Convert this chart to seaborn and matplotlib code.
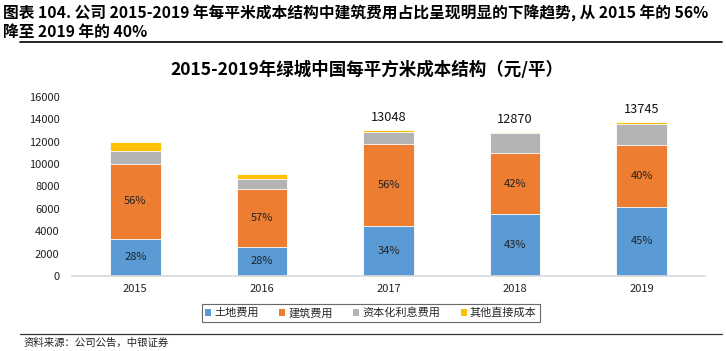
import matplotlib
matplotlib.use("Agg")
import matplotlib.pyplot as plt
from matplotlib.lines import Line2D
from matplotlib.patches import Patch
import seaborn as sns
import pandas as pd
import numpy as np

sns.set_theme(style="white")
plt.rcParams['font.family'] = ['Noto Sans CJK SC', 'DejaVu Sans']

years = ["2015", "2016", "2017", "2018", "2019"]
land = [3330, 2590, 4440, 5534, 6185]
construction = [6660, 5200, 7300, 5405, 5500]
capital = [1190, 840, 1100, 1830, 1880]
other = [750, 445, 208, 101, 180]
land_pct = ["28%", "28%", "34%", "43%", "45%"]
cons_pct = ["56%", "57%", "56%", "42%", "40%"]
totals_shown = [None, None, 13048, 12870, 13745]
series_names = ["土地费用", "建筑费用", "资本化利息费用", "其他直接成本"]
colors = ["#5B9BD5", "#ED7D31", "#B4B4B4", "#FFC000"]

W, H = 726, 351
fig = plt.figure(figsize=(W / 100, H / 100), dpi=100)

def fx(px):
    return px / W

def fy(py):
    return 1 - py / H

# Header
fig.text(fx(3), fy(13), "图表 104. 公司 2015-2019 年每平米成本结构中建筑费用占比呈现明显的下降趋势, 从 2015 年的 56%",
         fontsize=11.3, fontweight="bold", va="center", ha="left", color="black")
fig.text(fx(3), fy(32), "降至 2019 年的 40%", fontsize=11.3, fontweight="bold", va="center", ha="left", color="black")
fig.add_artist(Line2D([fx(20), fx(722)], [fy(42), fy(42)], color="black", lw=1.2))
fig.add_artist(Line2D([fx(20), fx(722)], [fy(334), fy(334)], color="#333333", lw=0.9))
fig.text(fx(24), fy(343), "资料来源：公司公告，中银证券", fontsize=7.5, va="center", ha="left",
         color="#222222", style="italic")

# Chart title
fig.text(fx(367), fy(70), "2015-2019年绿城中国每平方米成本结构（元/平）", fontsize=12.6,
         fontweight="bold", ha="center", va="center", color="black")

ax = fig.add_axes([fx(72), fy(276), fx(705) - fx(72), (276 - 96.7) / H])

df = pd.DataFrame({"year": years, "land": land, "construction": construction,
                   "capital": capital, "other": other})
layers = [df["land"].values,
          df["land"].values + df["construction"].values,
          df["land"].values + df["construction"].values + df["capital"].values,
          df["land"].values + df["construction"].values + df["capital"].values + df["other"].values]

for i in range(3, -1, -1):
    sns.barplot(x=years, y=layers[i], color=colors[i], width=0.4, ax=ax,
                edgecolor="white", linewidth=0.6, saturation=1, order=years)

ax.set_ylim(0, 16000)
ax.set_xlim(-0.5, 4.5)
ax.set_yticks(np.arange(0, 16001, 2000))
ax.tick_params(axis="y", labelsize=8, colors="#222222", length=0, pad=9)
ax.tick_params(axis="x", labelsize=8, colors="#222222", length=0, pad=6)
ax.set_xlabel("")
ax.set_ylabel("")
for s in ["top", "right", "left"]:
    ax.spines[s].set_visible(False)
ax.spines["bottom"].set_color("#D9D9D9")
ax.spines["bottom"].set_linewidth(1.2)
ax.grid(False)

for i in range(len(years)):
    ax.text(i, land[i] / 2, land_pct[i], ha="center", va="center", fontsize=8, color="#222222")
    ax.text(i, land[i] + construction[i] / 2, cons_pct[i], ha="center", va="center",
            fontsize=8, color="#222222")
    if totals_shown[i] is not None:
        ax.text(i, layers[3][i] + 550, str(totals_shown[i]), ha="center", va="bottom",
                fontsize=9.2, color="#111111")

handles = [Patch(facecolor=c, edgecolor="none") for c in colors]
leg = fig.legend(handles, series_names, loc="center", bbox_to_anchor=(fx(371), fy(313)),
                 ncol=4, fontsize=8, frameon=True, fancybox=False, edgecolor="#444444",
                 handlelength=0.55, handleheight=0.55, handletextpad=0.3, columnspacing=1.8,
                 borderpad=0.3)
leg.get_frame().set_linewidth(0.8)

fig.savefig("out.png", dpi=100)
